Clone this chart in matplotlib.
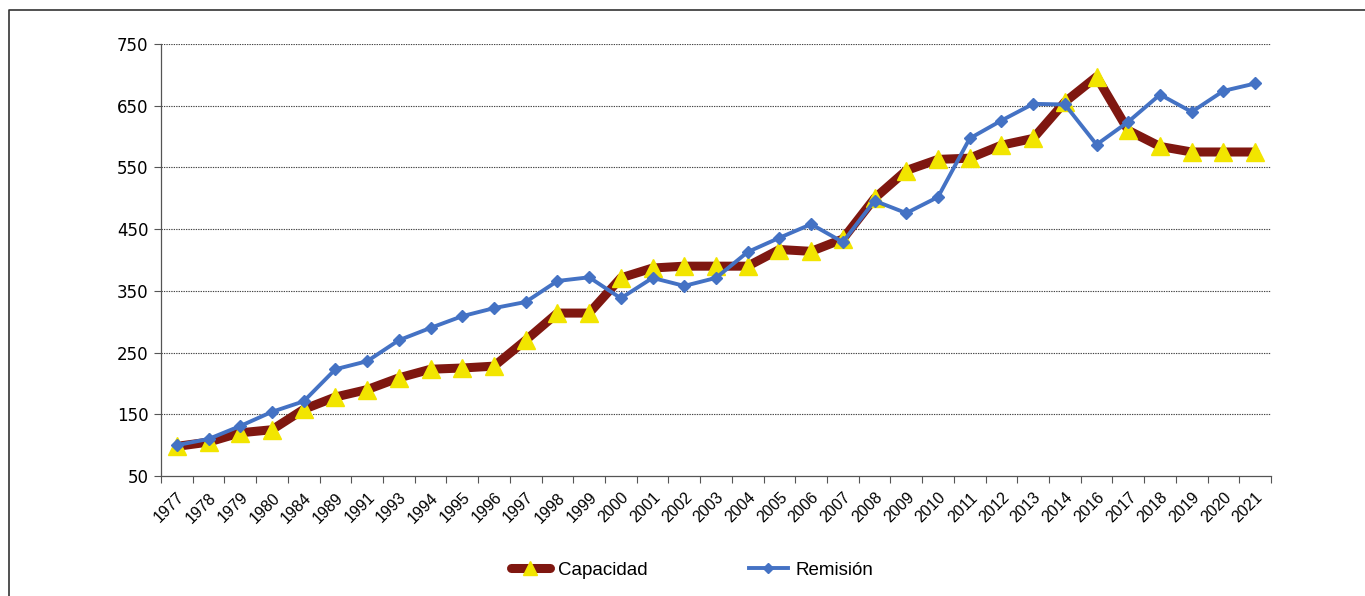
import matplotlib.pyplot as plt
from matplotlib.lines import Line2D
import numpy as np

YEARS = ['1977', '1978', '1979', '1980', '1984', '1989', '1991', '1993', '1994', '1995',
         '1996', '1997', '1998', '1999', '2000', '2001', '2002', '2003', '2004', '2005',
         '2006', '2007', '2008', '2009', '2010', '2011', '2012', '2013', '2014', '2016',
         '2017', '2018', '2019', '2020', '2021']
CAPACIDAD = [98, 105, 120, 125, 158, 178, 190, 209, 223, 225,
             228, 270, 314, 314, 371, 387, 390, 390, 390, 417,
             414, 434, 500, 545, 563, 565, 586, 597, 656, 697,
             610, 584, 575, 575, 575]
REMISION = [100, 110, 131, 154, 171, 223, 236, 270, 290, 309,
            322, 332, 366, 372, 338, 371, 358, 371, 413, 436,
            458, 429, 496, 476, 502, 597, 626, 653, 652, 587,
            624, 668, 640, 674, 686]
Y_TICKS = [50, 150, 250, 350, 450, 550, 650, 750]

fig = plt.figure(figsize=(13.65, 5.96), dpi=100)
ax = fig.add_axes([161 / 1365, 1 - 476 / 596, 1110 / 1365, 432 / 596])

x = np.arange(len(YEARS))
ax.plot(x, CAPACIDAD, color='#7F1710', lw=6.5, solid_capstyle='round', zorder=3,
        marker='^', markersize=13, markerfacecolor='#F2E500', markeredgecolor='#F2E500',
        label='Capacidad')
ax.plot(x, REMISION, color='#4472C4', lw=2.8, zorder=4,
        marker='D', markersize=6.5, markerfacecolor='#4472C4', markeredgecolor='#4472C4',
        label='Remisión')

ax.set_xlim(-0.5, len(YEARS) - 0.5)
ax.set_ylim(50, 750)
ax.set_yticks(Y_TICKS)
ax.set_yticklabels([str(v) for v in Y_TICKS], fontsize=12, family='DejaVu Sans')
for v in Y_TICKS[1:]:
    ax.axhline(v, color='#444444', lw=0.8, ls=(0, (1.2, 1.0)), zorder=1)

ax.set_xticks(x)
ax.set_xticklabels(YEARS, rotation=45, ha='right', rotation_mode='anchor',
                   fontsize=11.5, family='Liberation Sans')
ax.tick_params(axis='x', length=0, pad=10)
ax.set_xticks(np.arange(len(YEARS) + 1) - 0.5, minor=True)
ax.tick_params(axis='x', which='minor', length=5, width=0.8, color='#555555')
ax.tick_params(axis='y', length=5, width=0.8, color='#555555', pad=4)

for s in ['top', 'right']:
    ax.spines[s].set_visible(False)
for s in ['left', 'bottom']:
    ax.spines[s].set_color('#555555')
    ax.spines[s].set_linewidth(0.9)

leg = fig.legend(loc='center', bbox_to_anchor=(692 / 1365, 1 - 570 / 596), ncol=2,
                 frameon=False, prop={'family': 'Liberation Sans', 'size': 13.5},
                 handlelength=2.1, columnspacing=5.4, handletextpad=0.4, markerscale=0.75)

# outer frame (left and top edges visible)
fig.add_artist(Line2D([9 / 1365, 9 / 1365, 1.0], [0.0, 1 - 10 / 596, 1 - 10 / 596],
                      transform=fig.transFigure, color='#333333', lw=1.2))

fig.savefig('out.png', dpi=100)
